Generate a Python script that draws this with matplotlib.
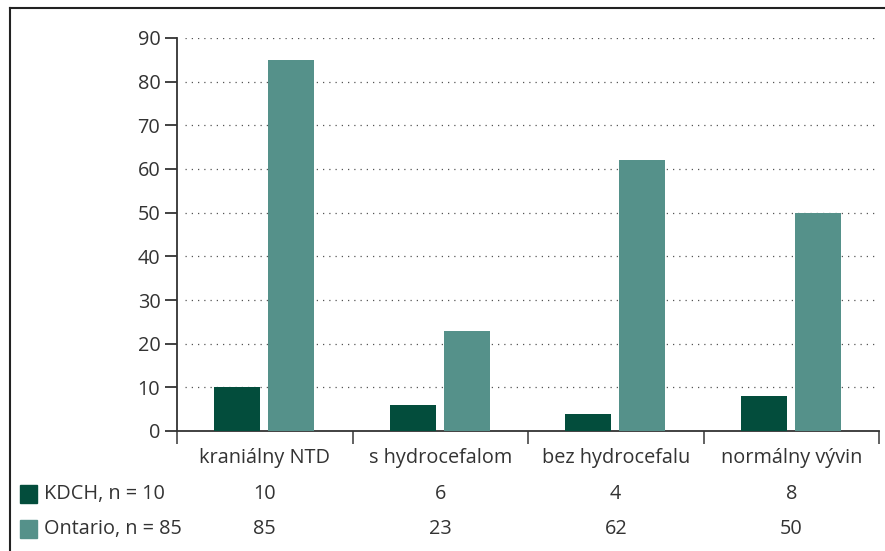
import numpy as np
import matplotlib.pyplot as plt
from matplotlib.patches import Rectangle

categories = ['kraniálny NTD', 's hydrocefalom', 'bez hydrocefalu', 'normálny vývin']
series_names = ['KDCH, n = 10', 'Ontario, n = 85']
kdch = [10, 6, 4, 8]
ontario = [85, 23, 62, 50]
yticks = [0, 10, 20, 30, 40, 50, 60, 70, 80, 90]

colors = ['#034d3c', '#55918a']
plt.rcParams['font.family'] = ['Open Sans', 'DejaVu Sans']
fs = 14.3

W, H = 885, 551
fig = plt.figure(figsize=(W / 100, H / 100), dpi=100)

# plot area in pixels
left, right, top, bottom = 177, 879, 38, 431
ax = fig.add_axes([left / W, 1 - bottom / H, (right - left) / W, (bottom - top) / H])

x = np.arange(len(categories))
bw = 0.262
ax.bar(x - 0.157, kdch, width=bw, color=colors[0], zorder=3)
ax.bar(x + 0.151, ontario, width=bw, color=colors[1], zorder=3)

ax.set_xlim(-0.5, len(categories) - 0.5)
ax.set_ylim(0, 90)
ax.set_yticks(yticks)
ax.tick_params(axis='y', direction='out', length=9, width=1.3, color='#333333',
               labelsize=fs, labelcolor='#333333', pad=3)
ax.set_xticks(np.arange(len(categories) + 1) - 0.5)
ax.set_xticklabels([])
ax.tick_params(axis='x', direction='out', length=9, width=1.3, color='#555555')

for s in ['top', 'right']:
    ax.spines[s].set_visible(False)
ax.spines['left'].set_linewidth(1.3)
ax.spines['left'].set_color('#333333')
ax.spines['bottom'].set_linewidth(1.3)
ax.spines['bottom'].set_color('#333333')

for v in yticks[1:]:
    ax.plot([-0.455, len(categories) - 0.5], [v, v], linestyle=(0, (1, 4)),
            color='#555555', linewidth=0.9, zorder=1)

# category labels and data table
for i, c in enumerate(categories):
    fig.text((left + (i + 0.5) * (right - left) / len(categories)) / W, 1 - 458 / H, c,
             ha='center', va='center', fontsize=fs, color='#333333')

rows = [kdch, ontario]
row_y = [494, 529]
for r, (name, vals, yy) in enumerate(zip(series_names, rows, row_y)):
    fig.patches.append(Rectangle((20 / W, 1 - (yy + 9) / H), 17 / W, 18 / H,
                                 transform=fig.transFigure, color=colors[r]))
    fig.text(44 / W, 1 - yy / H, name, ha='left', va='center', fontsize=fs, color='#333333')
    for i, v in enumerate(vals):
        fig.text((left + (i + 0.5) * (right - left) / len(categories)) / W, 1 - yy / H, str(v),
                 ha='center', va='center', fontsize=fs, color='#333333')

# frame lines (top and left)
fig.add_artist(plt.Line2D([9.5 / W, 1], [1 - 8 / H, 1 - 8 / H], color='#222222', linewidth=1.5))
fig.add_artist(plt.Line2D([9.5 / W, 9.5 / W], [0, 1 - 8 / H], color='#222222', linewidth=1.5))

fig.savefig('out.png', dpi=100)
